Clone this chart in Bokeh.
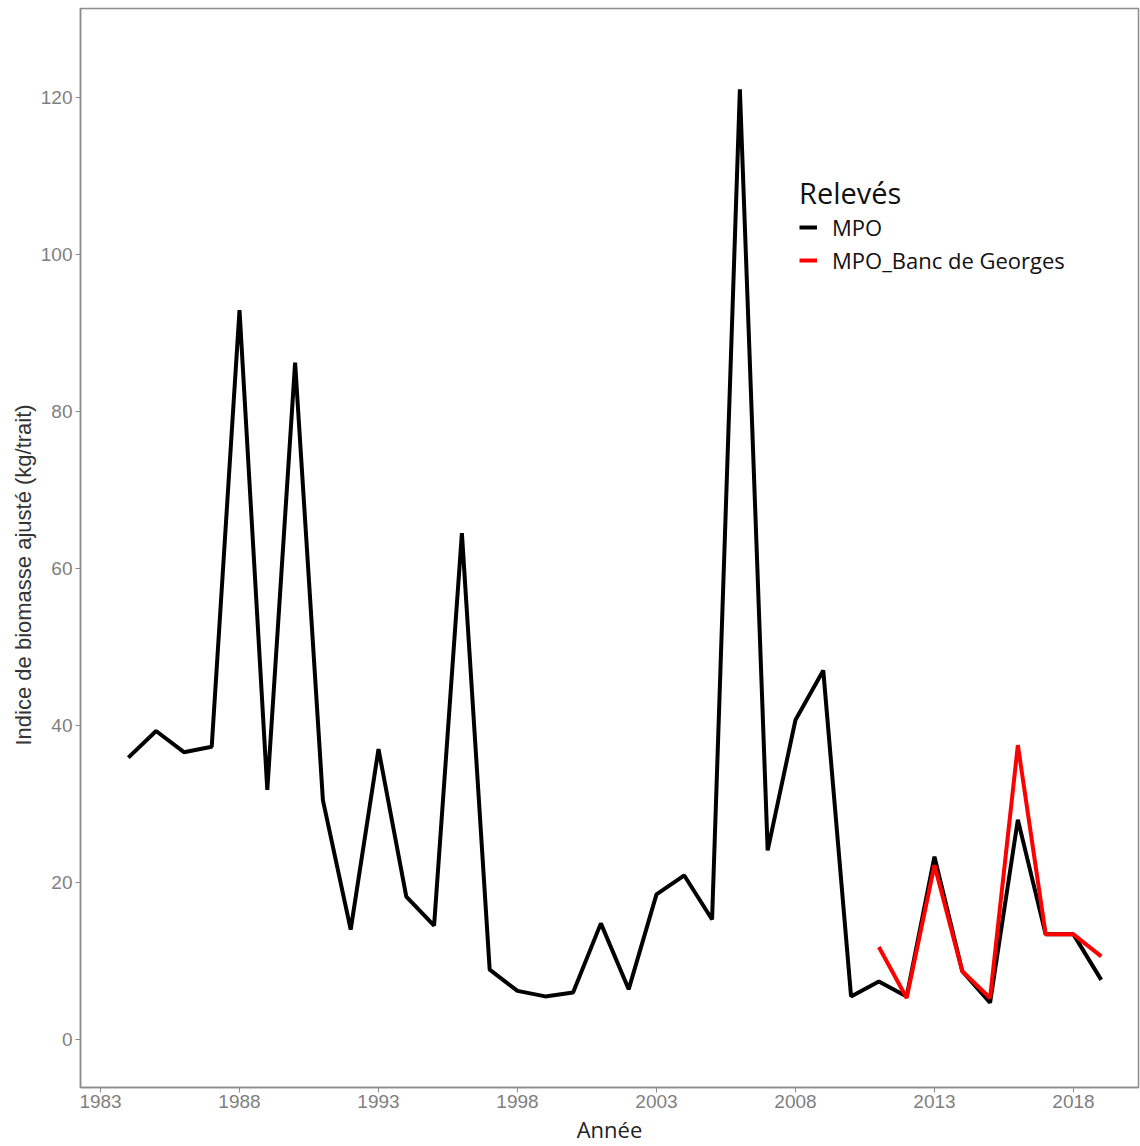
from bokeh.plotting import figure
from bokeh.models import Range1d, FixedTicker, Legend, LegendItem, Title
from bokeh.embed import file_html
from bokeh.resources import INLINE

years_mpo = list(range(1984, 2020))
mpo = [35.9, 39.3, 36.6, 37.3, 92.9, 31.8, 86.2, 30.5, 14.0, 37.0,
       18.2, 14.5, 64.5, 8.9, 6.2, 5.5, 6.0, 14.8, 6.4, 18.5,
       20.9, 15.3, 121.0, 24.1, 40.7, 47.0, 5.5, 7.4, 5.5, 23.3,
       8.7, 4.7, 28.0, 13.4, 13.4, 7.6]
years_bg = list(range(2011, 2020))
bg = [11.8, 5.3, 22.2, 8.7, 5.3, 37.5, 13.4, 13.4, 10.6]

x_ticks = [1983, 1988, 1993, 1998, 2003, 2008, 2013, 2018]
y_ticks = [0, 20, 40, 60, 80, 100, 120]

p = figure(width=1140, height=1146, output_backend="svg", toolbar_location=None,
           x_range=Range1d(1982.28, 2020.34), y_range=Range1d(-6.1, 131.3),
           min_border_left=80, min_border_right=2, min_border_top=8, min_border_bottom=58)
p.background_fill_color = "white"
p.border_fill_color = "white"
p.outline_line_color = "#8c8c8c"
p.outline_line_width = 1.5
p.xgrid.visible = False
p.ygrid.visible = False

r1 = p.line(years_mpo, mpo, line_color="black", line_width=4)
r2 = p.line(years_bg, bg, line_color="#ff0000", line_width=4)

for ax in (p.xaxis[0], p.yaxis[0]):
    ax.axis_line_color = "#8c8c8c"
    ax.axis_line_width = 1.5
    ax.major_tick_line_color = "#8c8c8c"
    ax.major_tick_out = 5
    ax.major_tick_in = 0
    ax.minor_tick_line_color = None
    ax.major_label_text_font = "Liberation Sans"
    ax.major_label_text_font_size = "19px"
    ax.major_label_text_color = "#7f7f7f"

p.xaxis[0].ticker = FixedTicker(ticks=x_ticks)
p.yaxis[0].ticker = FixedTicker(ticks=y_ticks)
p.xaxis[0].major_label_standoff = 2
p.yaxis[0].major_label_standoff = 3

p.xaxis[0].axis_label = "Année"
p.xaxis[0].axis_label_text_font = "Open Sans"
p.xaxis[0].axis_label_text_font_size = "22px"
p.xaxis[0].axis_label_text_font_style = "normal"
p.xaxis[0].axis_label_text_color = "#222222"
p.xaxis[0].axis_label_standoff = 3

ytitle = Title(text="Indice de biomasse ajusté (kg/trait)", align="left",
               offset=342, standoff=4,
               text_font="Liberation Sans", text_font_size="22px",
               text_font_style="normal", text_color="#333333")
p.add_layout(ytitle, "left")

legend = Legend(items=[LegendItem(label="MPO", renderers=[r1]),
                       LegendItem(label="MPO_Banc de Georges", renderers=[r2])],
                location=(715, 808))
legend.title = "Relevés"
legend.title_text_font = "Open Sans"
legend.title_text_font_size = "29px"
legend.title_text_font_style = "normal"
legend.title_text_color = "#111111"
legend.title_standoff = 0
legend.label_text_font = "Open Sans"
legend.label_text_font_size = "22px"
legend.label_text_color = "#111111"
legend.glyph_width = 18
legend.glyph_height = 28
legend.label_height = 28
legend.label_standoff = 15
legend.spacing = 3
legend.padding = 4
legend.margin = 0
legend.border_line_alpha = 0
legend.background_fill_alpha = 0
p.add_layout(legend)

open("out.html", "w").write(file_html(p, INLINE))
